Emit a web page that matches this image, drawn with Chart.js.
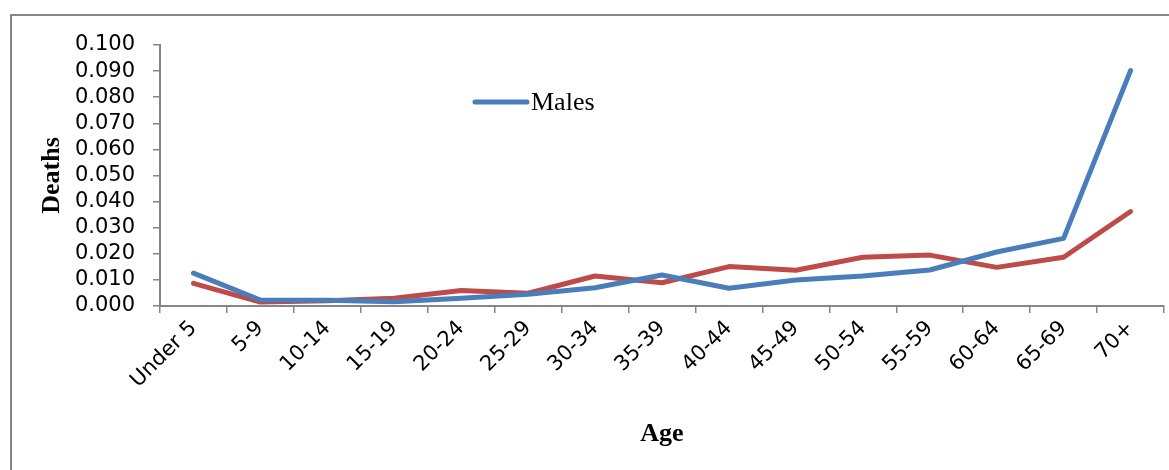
<!DOCTYPE html>
<html>
<head>
<meta charset="utf-8">
<script src="https://cdn.jsdelivr.net/npm/chart.js@4/dist/chart.umd.min.js"></script>
<style>
  html, body { margin: 0; padding: 0; background: #ffffff; }
  canvas { display: block; }
</style>
</head>
<body>
<canvas id="deaths" width="1169" height="470"></canvas>
<script>
// Age groups along the horizontal axis
const ageGroups = ['Under 5', '5-9', '10-14', '15-19', '20-24', '25-29', '30-34', '35-39',
  '40-44', '45-49', '50-54', '55-59', '60-64', '65-69', '70+'];

// Death rates by age group
const males = [0.0126, 0.0023, 0.0022, 0.0016, 0.0030, 0.0045, 0.0070, 0.0119,
  0.0068, 0.0100, 0.0115, 0.0138, 0.0207, 0.0259, 0.0902];
const females = [0.0087, 0.0015, 0.0020, 0.0030, 0.0059, 0.0049, 0.0115, 0.0089,
  0.0151, 0.0137, 0.0187, 0.0195, 0.0148, 0.0187, 0.0362];

// Vertical axis range
const yMin = 0;
const yMax = 0.1;
const yStep = 0.01;

const BLUE = '#4A7EBB';
const RED = '#BE4B48';
const AXIS_GREY = '#868686';

// Grey frame around the whole figure
const framePlugin = {
  id: 'frame',
  beforeDraw(chart) {
    const ctx = chart.ctx;
    ctx.save();
    ctx.fillStyle = '#ffffff';
    ctx.fillRect(0, 0, chart.width, chart.height);
    ctx.strokeStyle = AXIS_GREY;
    ctx.lineWidth = 2;
    ctx.beginPath();
    ctx.moveTo(11, chart.height + 5);
    ctx.lineTo(11, 15);
    ctx.lineTo(chart.width + 5, 15);
    ctx.stroke();
    ctx.restore();
  }
};

// Legend entry for the first series, placed inside the plot
const inlineLegend = {
  id: 'inlineLegend',
  afterDraw(chart) {
    const ds = chart.data.datasets[0];
    const ctx = chart.ctx;
    ctx.save();
    ctx.strokeStyle = ds.borderColor;
    ctx.lineWidth = 5;
    ctx.lineCap = 'round';
    ctx.beginPath();
    ctx.moveTo(475, 102);
    ctx.lineTo(527, 102);
    ctx.stroke();
    ctx.fillStyle = '#000000';
    ctx.font = '26px "Liberation Serif", "Times New Roman", serif';
    ctx.textBaseline = 'alphabetic';
    ctx.textAlign = 'left';
    ctx.fillText(ds.label, 531, 110);
    ctx.restore();
  }
};

new Chart(document.getElementById('deaths'), {
  type: 'line',
  data: {
    labels: ageGroups,
    datasets: [
      {
        label: 'Males',
        data: males,
        borderColor: BLUE,
        backgroundColor: BLUE,
        borderWidth: 5,
        borderCapStyle: 'round',
        borderJoinStyle: 'round',
        pointRadius: 0,
        tension: 0
      },
      {
        label: 'Females',
        data: females,
        borderColor: RED,
        backgroundColor: RED,
        borderWidth: 5,
        borderCapStyle: 'round',
        borderJoinStyle: 'round',
        pointRadius: 0,
        tension: 0
      }
    ]
  },
  options: {
    responsive: false,
    animation: false,
    devicePixelRatio: 1,
    layout: { padding: { top: 45, right: 5, bottom: 0, left: 0 } },
    plugins: {
      legend: { display: false },
      tooltip: { enabled: false }
    },
    scales: {
      x: {
        type: 'category',
        offset: true,
        grid: {
          offset: true,
          drawOnChartArea: false,
          drawTicks: true,
          tickLength: 7,
          color: AXIS_GREY,
          lineWidth: 1.5
        },
        border: { display: true, color: AXIS_GREY, width: 2 },
        ticks: {
          autoSkip: false,
          maxRotation: 45,
          minRotation: 45,
          padding: 3,
          color: '#000000',
          font: { family: '"DejaVu Sans", sans-serif', size: 21 }
        },
        title: {
          display: true,
          text: 'Age',
          color: '#000000',
          font: { family: '"Liberation Serif", "Times New Roman", serif', size: 26, weight: 'bold' },
          padding: { top: 0, bottom: 20 }
        },
        afterFit(scale) { scale.height = 164; }
      },
      y: {
        min: yMin,
        max: yMax,
        grid: {
          drawOnChartArea: false,
          drawTicks: true,
          tickLength: 7,
          color: AXIS_GREY,
          lineWidth: 1.5
        },
        border: { display: true, color: AXIS_GREY, width: 2 },
        ticks: {
          stepSize: yStep,
          autoSkip: false,
          padding: 18,
          color: '#000000',
          font: { family: '"DejaVu Sans", sans-serif', size: 21 },
          callback: (v) => Number(v).toFixed(3)
        },
        title: {
          display: true,
          text: 'Deaths',
          color: '#000000',
          font: { family: '"Liberation Serif", "Times New Roman", serif', size: 26, weight: 'bold' },
          padding: { top: 37, bottom: 0 }
        },
        afterFit(scale) { scale.width = 160; }
      }
    }
  },
  plugins: [framePlugin, inlineLegend]
});
</script>
</body>
</html>
